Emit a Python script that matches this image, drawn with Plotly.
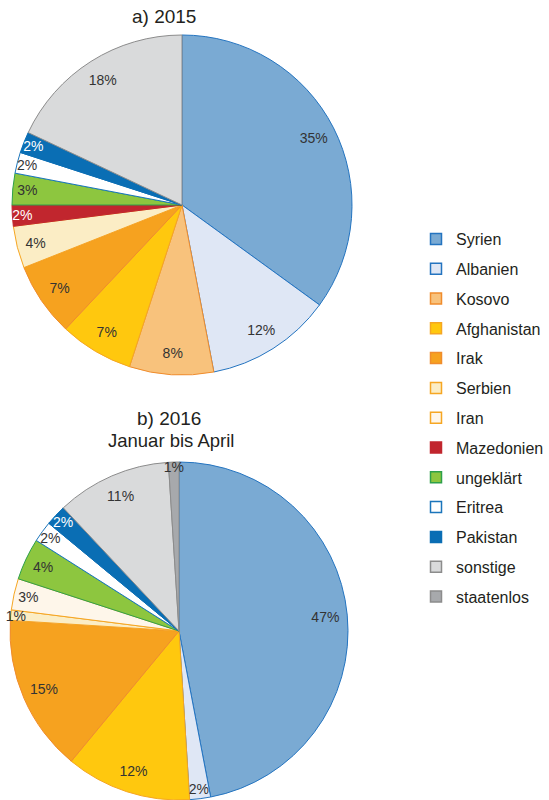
import plotly.graph_objects as go

# ---- data ----
categories = ["Syrien", "Albanien", "Kosovo", "Afghanistan", "Irak", "Serbien", "Iran",
              "Mazedonien", "ungeklärt", "Eritrea", "Pakistan", "sonstige", "staatenlos"]
share_2015 = [35, 12, 8, 7, 7, 4, None, 2, 3, 2, 2, 18, None]
share_2016 = [47, 2, None, 12, 15, 1, 3, None, 4, 2, 2, 11, 1]

fill_colors = ["#7AAAD3", "#DFE7F5", "#F8C27C", "#FFC80E", "#F6A21F", "#FBEDC5", "#FEF6EA",
               "#C1262E", "#8DC63F", "#FFFFFF", "#0A6EB4", "#D9DADB", "#A7A9AC"]
line_colors = ["#2474C0", "#2474C0", "#F08C2C", "#F5A623", "#F08C2C", "#F6A623", "#F6A623",
               "#C1262E", "#2EA04A", "#1B75BB", "#0A6EB4", "#8C8C8C", "#8C8C8C"]
text_colors = ["#333333"] * 7 + ["#FFFFFF", "#333333", "#333333", "#FFFFFF", "#333333", "#333333"]

FONT = "Liberation Sans, Arial, sans-serif"

fig = go.Figure()


def add_pie(values, domain):
    idx = [i for i, v in enumerate(values) if v is not None]
    labels = [categories[i] for i in idx]
    vals = [values[i] for i in idx]
    # filled slices
    fig.add_trace(go.Pie(
        labels=labels, values=vals, sort=False, direction="clockwise", rotation=0,
        marker=dict(colors=[fill_colors[i] for i in idx],
                    line=dict(color=[line_colors[i] for i in idx], width=1)),
        textinfo="none", hoverinfo="label+percent", showlegend=False, domain=domain,
    ))
    # transparent ring carrying the percentage labels near the rim
    fig.add_trace(go.Pie(
        labels=labels, values=vals, sort=False, direction="clockwise", rotation=0,
        hole=0.74,
        marker=dict(colors=["rgba(0,0,0,0)"] * len(idx), line=dict(width=0)),
        texttemplate="%{value}%", textposition="inside",
        insidetextorientation="horizontal",
        textfont=dict(family=FONT, size=14, color=[text_colors[i] for i in idx]),
        hoverinfo="skip", showlegend=False, domain=domain,
    ))


add_pie(share_2015, dict(x=[12 / 549, 352 / 549], y=[1 - 375 / 800, 1 - 35 / 800]))
add_pie(share_2016, dict(x=[10 / 549, 348 / 549], y=[0, 1 - 462 / 800]))

# legend entries (one group per category for spacing)
for i, c in enumerate(categories):
    fig.add_trace(go.Scatter(
        x=[None], y=[None], mode="markers", name=c, legendgroup=c,
        marker=dict(symbol="square", size=11, color=fill_colors[i],
                    line=dict(color=line_colors[i], width=1.5)),
        showlegend=True, hoverinfo="skip",
    ))

fig.update_layout(
    width=549, height=800,
    margin=dict(l=0, r=0, t=0, b=0),
    paper_bgcolor="white", plot_bgcolor="white",
    font=dict(family=FONT, color="#231F20"),
    xaxis=dict(visible=False), yaxis=dict(visible=False),
    uniformtext=dict(minsize=14, mode="show"),
    legend=dict(x=416 / 549, y=1 - 222 / 800, xanchor="left", yanchor="top",
                font=dict(family=FONT, size=16, color="#231F20"),
                tracegroupgap=6, traceorder="grouped", itemwidth=30,
                bgcolor="rgba(0,0,0,0)"),
    annotations=[
        dict(text="a) 2015", x=164 / 549, y=1 - 17 / 800, xref="paper", yref="paper",
             xanchor="center", yanchor="middle",
             showarrow=False, font=dict(family=FONT, size=19, color="#231F20")),
        dict(text="b) 2016", x=169 / 549, y=1 - 418 / 800, xref="paper", yref="paper",
             xanchor="center", yanchor="middle",
             showarrow=False, font=dict(family=FONT, size=19, color="#231F20")),
        dict(text="Januar bis April", x=171 / 549, y=1 - 440 / 800, xref="paper", yref="paper",
             xanchor="center", yanchor="middle",
             showarrow=False, font=dict(family=FONT, size=18.5, color="#231F20")),
    ],
)

fig.write_html("out.html", config={"displayModeBar": False},
               post_script="document.body.style.margin='0';")
